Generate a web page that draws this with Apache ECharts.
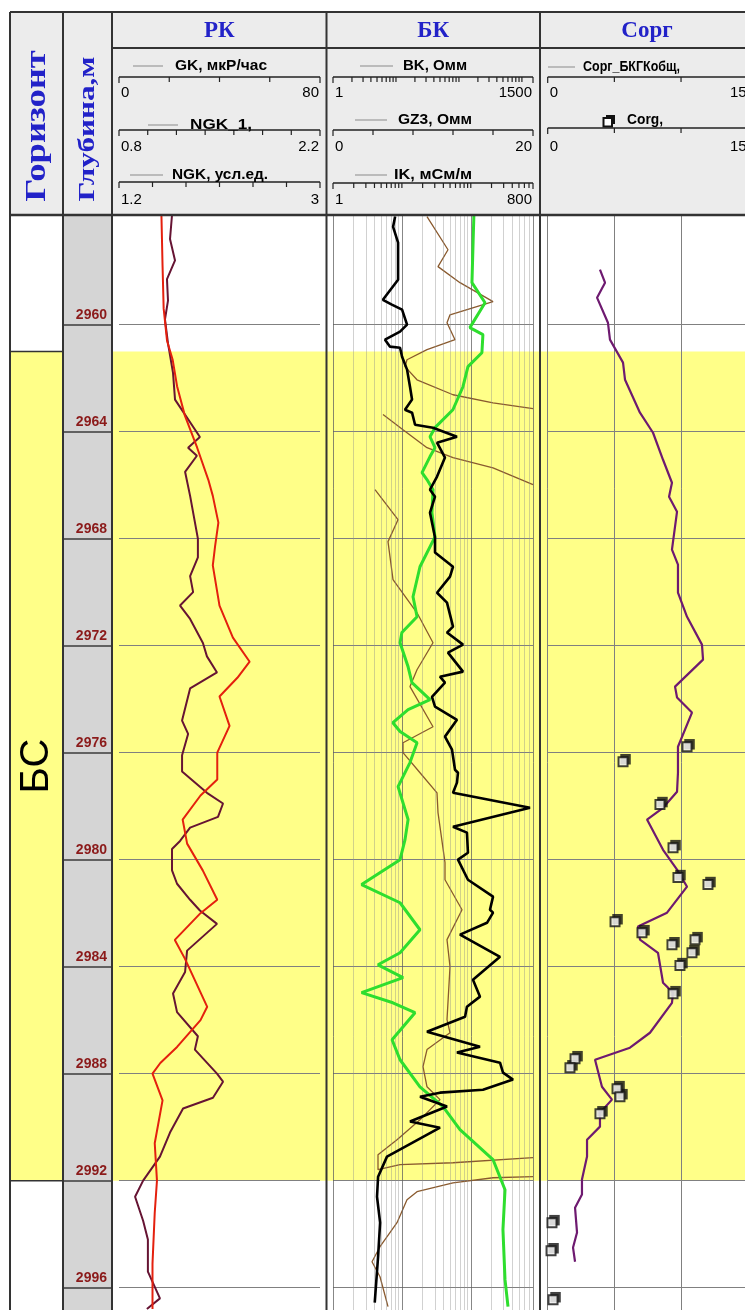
<!DOCTYPE html>
<html><head><meta charset="utf-8">
<script src="https://cdn.jsdelivr.net/npm/echarts/dist/echarts.min.js"></script>
<style>html,body{margin:0;padding:0;overflow:hidden;background:#fff}#c{width:745px;height:1310px}</style>
</head><body><div id="c"></div>
<script>
// ---------------- DATA ----------------
const depthTicks = [2960, 2964, 2968, 2972, 2976, 2980, 2984, 2988, 2992, 2996];
const depthTop = 2955.9, depthBottom = 2996.85;
const bandTop = 2961, bandBottom = 2992;
const horizonName = 'БС';

const colTitles = ['Горизонт', 'Глубина,м'];
const trackTitles = ['РК', 'БК', 'Сорг'];

const rkNames = ['GK, мкР/час', 'NGK_1,', 'NGK, усл.ед.'];
const rkMin = [0, 0.8, 1.2], rkMax = [80, 2.2, 3], rkStep = [20, 0.2, 0.3];
const rkMinLabel = ['0', '0.8', '1.2'], rkMaxLabel = ['80', '2.2', '3'];

const bkNames = ['BK, Омм', 'GZ3, Омм', 'IK, мСм/м'];
const bkMin = [1, 0, 1], bkMax = [1500, 20, 800], bkLog = [true, false, true], bkStep = [0, 4, 0];
const bkMinLabel = ['1', '0', '1'], bkMaxLabel = ['1500', '20', '800'];

const sorgNames = ['Сорг_БКГКобщ,', 'Corg,'];
const sorgMin = [0, 0], sorgMax = [15, 15], sorgStep = [5, 5];
const sorgMinLabel = ['0', '0'], sorgMaxLabel = ['15', '15'];

// GK (maroon)
const gkDepth = [2955.9, 2956.8, 2957.6, 2958.3, 2959.1, 2959.8, 2960.7, 2961.8, 2962.8, 2964.2, 2964.6, 2964.9, 2965.5, 2966.4, 2968.0, 2968.7, 2969.4, 2970.0, 2970.5, 2971.0, 2971.9, 2972.4, 2973.0, 2973.6, 2974.8, 2975.3, 2976.1, 2976.7, 2977.5, 2977.9, 2978.4, 2978.8, 2979.3, 2979.6, 2980.4, 2980.9, 2981.5, 2981.9, 2982.4, 2983.4, 2984.2, 2985.0, 2985.7, 2986.6, 2987.1, 2988.0, 2988.3, 2988.9, 2989.3, 2990.2, 2991.1, 2992.0, 2992.6, 2993.5, 2994.2, 2995.4, 2996.4, 2996.8];
const gkValue = [21.1, 20.3, 22.3, 19.1, 19.5, 18.3, 19.5, 21.5, 22.3, 32.2, 27.5, 31.0, 26.3, 28.3, 31.4, 31.4, 28.3, 29.5, 24.3, 28.3, 33.4, 35.0, 39.0, 28.3, 25.1, 27.5, 25.1, 25.1, 35.0, 41.4, 39.4, 28.3, 24.3, 21.1, 21.1, 23.1, 28.3, 32.2, 39.0, 27.1, 26.3, 21.5, 23.1, 31.4, 30.2, 39.0, 41.4, 37.4, 25.5, 20.3, 16.3, 9.6, 6.4, 9.6, 11.5, 11.5, 16.3, 11.1];

// NGK (red)
const ngkDepth = [2955.9, 2957.8, 2959.4, 2960.6, 2961.3, 2962.3, 2963.4, 2964.6, 2965.8, 2966.4, 2967.4, 2968.3, 2969.0, 2970.5, 2971.7, 2972.6, 2973.2, 2973.9, 2975.0, 2976.0, 2977.0, 2977.6, 2978.5, 2979.4, 2980.4, 2981.5, 2982.0, 2983.0, 2983.7, 2985.5, 2986.0, 2987.0, 2987.6, 2988.0, 2989.0, 2990.6, 2992.0, 2993.2, 2995.1, 2996.4, 2996.8];
const ngkValue = [1.58, 1.59, 1.60, 1.63, 1.68, 1.72, 1.79, 1.90, 2.00, 2.04, 2.09, 2.06, 2.04, 2.10, 2.22, 2.37, 2.26, 2.10, 2.19, 2.08, 2.08, 1.93, 1.77, 1.81, 1.95, 2.08, 1.93, 1.70, 1.79, 1.99, 1.93, 1.72, 1.57, 1.50, 1.59, 1.52, 1.54, 1.52, 1.50, 1.50, 1.50];

// BK (black, log)
const bkDepth = [2955.96, 2956.34, 2956.93, 2958.32, 2959.07, 2959.25, 2959.44, 2960.0, 2960.26, 2960.56, 2960.82, 2960.86, 2961.2, 2961.68, 2962.32, 2962.8, 2963.18, 2963.29, 2963.74, 2963.85, 2964.19, 2964.41, 2964.97, 2965.68, 2966.17, 2966.43, 2967.03, 2967.96, 2968.52, 2969.05, 2969.42, 2970.02, 2970.39, 2971.29, 2971.51, 2971.96, 2972.26, 2972.97, 2973.16, 2973.38, 2973.91, 2974.28, 2974.77, 2975.4, 2975.89, 2976.64, 2976.75, 2977.12, 2977.5, 2978.06, 2978.77, 2978.99, 2979.74, 2980.0, 2980.75, 2981.38, 2981.87, 2981.98, 2982.36, 2982.8, 2983.63, 2984.49, 2985.12, 2985.5, 2985.87, 2986.43, 2986.99, 2987.21, 2987.59, 2987.96, 2988.22, 2988.6, 2988.71, 2988.86, 2989.23, 2989.79, 2990.02, 2991.1, 2991.85, 2992.6, 2993.57, 2994.84, 2996.56];
const bkValue = [9.7, 9.0, 10.8, 10.8, 6.2, 8.6, 12.5, 15.0, 11.6, 6.7, 8.0, 11.6, 12.5, 15.0, 16.7, 18.0, 13.9, 18.0, 20.1, 38.7, 93, 44.9, 60, 44.9, 34.7, 41.7, 34.7, 41.7, 41.7, 80.5, 72.1, 44.9, 64.6, 80.5, 64.6, 116, 67, 116, 50, 60, 37.3, 41.7, 93, 60, 77.6, 86.6, 96.6, 93, 80.5, 1343, 80.5, 134, 139, 96.6, 139, 348, 311, 348, 279, 104, 449, 167, 216, 134, 125, 31.1, 216, 93, 449, 501, 722, 241, 50, 24.1, 64.6, 16.7, 50, 7.2, 5.2, 5.0, 5.6, 5.2, 4.6];

// IK (green, log)
const ikDepth = [2955.89, 2956.93, 2958.43, 2959.18, 2960.11, 2960.37, 2961.05, 2961.57, 2962.32, 2963.18, 2963.85, 2964.19, 2964.6, 2964.93, 2965.53, 2965.79, 2966.17, 2967.03, 2967.93, 2969.05, 2970.17, 2970.92, 2971.51, 2971.89, 2972.79, 2973.38, 2974.02, 2974.39, 2974.88, 2975.21, 2975.63, 2976.37, 2977.27, 2978.5, 2979.25, 2980.0, 2980.93, 2981.61, 2982.62, 2983.48, 2983.93, 2984.41, 2984.97, 2985.35, 2985.72, 2986.73, 2987.48, 2988.49, 2989.23, 2990.09, 2991.21, 2992.34, 2993.83, 2995.7, 2996.71];
const ikValue = [111, 108, 104, 161, 97, 150, 145, 91, 77, 55, 30.2, 25.6, 30.2, 25.6, 19.6, 23.1, 28.3, 27.3, 30.2, 18.3, 14.5, 16.6, 10.0, 9.4, 12.3, 14.0, 25.6, 12.3, 7.4, 9.4, 16.6, 13.1, 8.8, 12.3, 11.1, 9.4, 2.6, 9.4, 18.3, 9.4, 4.5, 10.4, 2.6, 7.4, 15.5, 7.2, 9.4, 18.3, 39.5, 69.7, 210, 314, 293, 314, 347];

// GZ3 (brown, wrapped segments separated by null)
const gz3Depth = [2955.96, 2957.2, 2957.83, 2958.43, 2959.14, 2959.63, 2959.93, 2960.56, 2960.93, 2961.31, 2961.57, 2962.06, 2962.62, 2962.92, 2963.14, null,
  2963.36, 2963.93, 2964.6, 2964.97, 2965.35, 2965.98, null,
  2966.17, 2967.29, 2968.11, 2969.53, 2970.77, 2971.89, 2972.9, 2973.53, 2975.03, 2975.63, 2976.0, 2976.75, 2977.5, 2978.24, 2980.11, 2980.75, 2981.87, 2982.99, 2984.0, 2985.98, 2986.47, 2987.1, 2987.74, 2988.49, 2988.97, 2989.72, 2990.47, 2991.03, 2991.59, 2991.4, 2991.33, 2991.14, null,
  2991.85, 2991.89, 2992.08, 2992.41, 2992.71, 2993.57, 2994.47, 2995.03, 2995.59, 2996.71];
const gz3Value = [9.4, 11.5, 10.5, 12.7, 16.0, 11.7, 11.4, 12.2, 9.4, 7.4, 7.2, 8.4, 12.0, 16.0, 20.0, null,
  5.0, 7.0, 9.4, 12.0, 16.0, 20.0, null,
  4.2, 6.5, 5.5, 6.0, 8.4, 10.0, 8.4, 7.7, 10.0, 7.0, 7.0, 8.7, 10.4, 10.5, 11.2, 11.2, 12.9, 11.4, 11.7, 11.4, 11.7, 9.4, 9.0, 9.4, 10.7, 8.7, 6.4, 4.5, 4.5, 6.7, 12.0, 20.0, null,
  20.0, 16.0, 12.0, 8.4, 7.4, 6.4, 4.7, 3.9, 4.7, 5.5];

// Сорг_БКГКобщ (purple)
const sorgDepth = [2957.94, 2958.43, 2958.99, 2959.93, 2960.56, 2961.42, 2962.06, 2963.29, 2964.04, 2965.05, 2965.91, 2966.43, 2966.99, 2968.41, 2968.97, 2970.02, 2970.92, 2971.96, 2972.52, 2973.53, 2973.94, 2974.5, 2975.78, 2976.75, 2977.46, 2978.06, 2978.5, 2979.63, 2980.37, 2981.01, 2981.98, 2982.5, 2982.99, 2983.48, 2984.6, 2984.97, 2985.35, 2986.47, 2987.03, 2987.48, 2988.49, 2988.97, 2989.46, 2989.98, 2990.47, 2991.1, 2991.96, 2992.52, 2993.01, 2993.94, 2994.5, 2995.03];
const sorgValue = [3.92, 4.30, 3.70, 4.52, 4.67, 5.65, 5.80, 6.92, 7.90, 8.65, 9.32, 9.10, 9.70, 9.32, 9.77, 9.77, 10.45, 11.57, 11.65, 9.55, 9.70, 10.82, 9.77, 9.77, 9.70, 8.65, 7.45, 8.65, 9.70, 10.45, 8.95, 6.77, 6.92, 8.27, 8.65, 9.40, 9.32, 7.67, 6.17, 3.55, 4.07, 4.82, 3.92, 3.92, 2.95, 2.95, 2.57, 2.57, 2.05, 2.20, 1.90, 2.05];

// Corg (core samples)
const corgDepth = [2975.78, 2976.34, 2977.94, 2979.55, 2980.67, 2980.93, 2982.32, 2982.73, 2983.18, 2982.99, 2983.48, 2983.96, 2985.01, 2987.44, 2987.78, 2988.56, 2988.86, 2989.5, 2993.57, 2994.62, 2996.45];
const corgValue = [10.45, 5.65, 8.42, 9.40, 9.77, 12.02, 5.05, 7.07, 9.32, 11.05, 10.82, 9.92, 9.40, 2.05, 1.67, 5.20, 5.42, 3.92, 0.32, 0.25, 0.40];

// ---------------- LAYOUT ----------------
const HEADER_TOP = 12, TITLE_BOTTOM = 48, HEADER_BOTTOM = 215;
const PX_PER_M = 26.75;
const GRID_TOP = HEADER_BOTTOM;
const GRID_H = (depthBottom - depthTop) * PX_PER_M;
const COL = {hor: [10, 63], depth: [63, 112], rk: [112, 326.5], bk: [326.5, 540], sorg: [540, 760]};
const TRK = {rk: {x: 119, w: 201}, bk: {x: 333, w: 200}, sorg: {x: 547.7, w: 200}};
const BLUE = '#2222c8', YELLOW = '#ffff88', BORDER = '#333333', GRIDC = '#808080';
const LABEL_FONT = 'bold 14px "Liberation Sans", Arial, sans-serif';
const NUM_FONT = '15px "Liberation Sans", Arial, sans-serif';

function zip(vals, depths) {
  return vals.map((v, i) => (v == null || depths[i] == null) ? ['-', '-'] : [v, depths[i]]);
}
function niceLogTicks(min, max) {
  const out = [];
  for (let e = 0; Math.pow(10, e) <= max; e++) {
    for (let m = 1; m <= 9; m++) {
      const v = m * Math.pow(10, e);
      if (v >= min - 1e-9 && v <= max + 1e-9) out.push(v);
    }
  }
  if (out[out.length - 1] !== max) out.push(max);
  return out;
}
function linTicks(min, max, step) {
  const n = Math.round((max - min) / step), out = [];
  for (let i = 0; i <= n; i++) out.push(min + i * step);
  return out;
}

// ---------------- GRAPHICS (header, borders) ----------------
const G = [];
const mctx = document.createElement('canvas').getContext('2d');
function rect(x, y, w, h, fill, z, stroke, lw) {
  G.push({type: 'rect', shape: {x, y, width: w, height: h}, style: {fill, stroke: stroke || null, lineWidth: lw || 0}, z: z || 100, silent: true});
}
function seg(x1, y1, x2, y2, stroke, lw, z) {
  G.push({type: 'line', shape: {x1, y1, x2, y2}, style: {stroke, lineWidth: lw}, z: z || 101, silent: true});
}
function txt(x, y, str, font, fill, align, valign, extra) {
  G.push(Object.assign({type: 'text', x, y, z: 102, silent: true,
    style: {text: str, font, fill, align, verticalAlign: valign, textAlign: align, textVerticalAlign: valign}}, extra || {}));
}
function fitTxt(x1, x2, y, str, font) {
  mctx.font = font;
  const w = mctx.measureText(str).width;
  txt(x1, y, str, font, '#000', 'left', 'middle', {scaleX: (x2 - x1) / w});
}
function scaleBar(trk, y, numY, min, max, log, step, minL, maxL) {
  const map = v => log ? trk.x + Math.log10(v / min) / Math.log10(max / min) * trk.w
                       : trk.x + (v - min) / (max - min) * trk.w;
  seg(trk.x, y, trk.x + trk.w, y, '#222', 1.5);
  const ticks = log ? niceLogTicks(min, max) : linTicks(min, max, step);
  ticks.forEach((v, i) => {
    const end = (i === 0 || i === ticks.length - 1);
    const px = map(v);
    seg(px, y, px, y + (end ? 6 : 5), '#222', 1.2);
  });
  txt(trk.x + 2, numY, minL, NUM_FONT, '#000', 'left', 'middle');
  txt(trk.x + trk.w - 1, numY, maxL, NUM_FONT, '#000', 'right', 'middle');
}

// header background
rect(COL.hor[0], HEADER_TOP, 760, HEADER_BOTTOM - HEADER_TOP, '#ececec', 100);
// column titles (rotated)
txt(37, 126, colTitles[0], 'bold 30px "Liberation Serif", serif', BLUE, 'center', 'middle', {rotation: Math.PI / 2, scaleX: 1.22});
txt(88, 129, colTitles[1], 'bold 24px "Liberation Serif", serif', BLUE, 'center', 'middle', {rotation: Math.PI / 2, scaleX: 1.3});
// track titles
const titleFont = 'bold 23px "Liberation Serif", serif';
txt((COL.rk[0] + COL.rk[1]) / 2, 31, trackTitles[0], titleFont, BLUE, 'center', 'middle');
txt((COL.bk[0] + COL.bk[1]) / 2, 31, trackTitles[1], titleFont, BLUE, 'center', 'middle');
txt(647, 31, trackTitles[2], titleFont, BLUE, 'center', 'middle');

// РК legends
const rkTextX = [[175, 267], [190, 252], [172, 268]], rkLineX = [[133, 163], [148, 178], [130, 163]];
const rkTextY = [66, 125, 175], rkScaleY = [77, 130, 182], rkNumY = [93, 147, 200];
rkNames.forEach((n, i) => {
  seg(rkLineX[i][0], rkTextY[i], rkLineX[i][1], rkTextY[i], '#8a8a8a', 1, 101);
  fitTxt(rkTextX[i][0], rkTextX[i][1], rkTextY[i], n, LABEL_FONT);
  scaleBar(TRK.rk, rkScaleY[i], rkNumY[i], rkMin[i], rkMax[i], false, rkStep[i], rkMinLabel[i], rkMaxLabel[i]);
});
// БК legends
const bkTextX = [[403, 467], [398, 472], [394, 472]], bkLineX = [[360, 393], [355, 387], [355, 387]];
const bkTextY = [66, 120, 175], bkScaleY = [77, 130, 183], bkNumY = [93, 147, 200];
bkNames.forEach((n, i) => {
  seg(bkLineX[i][0], bkTextY[i], bkLineX[i][1], bkTextY[i], '#8a8a8a', 1, 101);
  fitTxt(bkTextX[i][0], bkTextX[i][1], bkTextY[i], n, LABEL_FONT);
  scaleBar(TRK.bk, bkScaleY[i], bkNumY[i], bkMin[i], bkMax[i], bkLog[i], bkStep[i], bkMinLabel[i], bkMaxLabel[i]);
});
// Сорг legends
const sgTextX = [[583, 680], [627, 663]];
const sgTextY = [67, 120], sgScaleY = [77, 128], sgNumY = [93, 147];
seg(548, sgTextY[0], 575, sgTextY[0], '#8a8a8a', 1, 101);
rect(606, 115, 9, 9, '#111', 101);
rect(603.5, 118, 8.5, 8.5, '#fff', 102, '#111', 2);
sorgNames.forEach((n, i) => {
  fitTxt(sgTextX[i][0], sgTextX[i][1], sgTextY[i], n, LABEL_FONT);
  scaleBar(TRK.sorg, sgScaleY[i], sgNumY[i], sorgMin[i], sorgMax[i], false, sorgStep[i], sorgMinLabel[i], sorgMaxLabel[i]);
});

// borders
[COL.hor[0], COL.hor[1], COL.depth[1], COL.rk[1], COL.bk[1]].forEach(x => seg(x, HEADER_TOP, x, 1310, BORDER, 2, 110));
seg(COL.hor[0], HEADER_TOP, 760, HEADER_TOP, BORDER, 2, 110);
seg(COL.rk[0], TITLE_BOTTOM, 760, TITLE_BOTTOM, BORDER, 2, 110);
seg(COL.hor[0], HEADER_BOTTOM, 760, HEADER_BOTTOM, BORDER, 2.5, 110);

// ---------------- ECHARTS OPTION ----------------
function gridAt(left, width, extra) {
  return Object.assign({left, width, top: GRID_TOP, height: GRID_H, containLabel: false, outerBoundsMode: 'none', borderWidth: 0}, extra || {});
}
function depthAxis(gi, show, extra) {
  return Object.assign({
    gridIndex: gi, type: 'value', inverse: true, min: depthTop, max: depthBottom, z: 2,
    axisLine: {show: false},
    axisTick: {show: false, customValues: depthTicks},
    axisLabel: {show: false, customValues: depthTicks},
    splitLine: {show: show, lineStyle: {color: GRIDC, width: 1}}
  }, extra || {});
}
function hiddenX(gi, min, max, type) {
  return {gridIndex: gi, type: type || 'value', min, max, show: false};
}

const ikGrid = niceLogTicks(bkMin[2], bkMax[2]);
const ikGridLines = ikGrid.map(v => {
  const decade = Math.abs(Math.log10(v) - Math.round(Math.log10(v))) < 1e-9 || v === bkMax[2];
  return {xAxis: v, lineStyle: {color: decade ? 'rgba(95,95,95,0.75)' : 'rgba(140,140,140,0.4)', width: 1, type: 'solid'}};
});

const option = {
  animation: false,
  backgroundColor: '#ffffff',
  textStyle: {fontFamily: '"Liberation Sans", Arial, sans-serif'},
  graphic: {elements: G},
  grid: [
    gridAt(COL.hor[0], COL.hor[1] - COL.hor[0]),
    gridAt(COL.depth[0], COL.depth[1] - COL.depth[0], {show: true, backgroundColor: '#d5d5d5'}),
    gridAt(TRK.rk.x, TRK.rk.w),
    gridAt(TRK.bk.x, TRK.bk.w),
    gridAt(TRK.sorg.x, TRK.sorg.w),
    gridAt(COL.rk[0], 760 - COL.rk[0])
  ],
  xAxis: [
    hiddenX(0, 0, 1),
    hiddenX(1, 0, 1),
    hiddenX(2, rkMin[0], rkMax[0]),
    hiddenX(2, rkMin[2], rkMax[2]),
    hiddenX(3, bkMin[0], bkMax[0], 'log'),
    hiddenX(3, bkMin[2], bkMax[2], 'log'),
    hiddenX(3, bkMin[1], bkMax[1]),
    {gridIndex: 4, type: 'value', min: sorgMin[0], max: sorgMax[0], interval: sorgStep[0], z: 2,
      axisLine: {show: false}, axisTick: {show: false}, axisLabel: {show: false},
      splitLine: {show: true, lineStyle: {color: GRIDC, width: 1}}},
    hiddenX(5, 0, 1)
  ],
  yAxis: [
    depthAxis(0, false),
    depthAxis(1, true, {
      position: 'right',
      splitLine: {show: true, lineStyle: {color: '#3a3a3a', width: 1.5}},
      axisLabel: {show: true, inside: true, customValues: depthTicks, margin: 5, align: 'right', verticalAlign: 'bottom',
        padding: [0, 0, 3, 0], color: '#8b1a1a', fontWeight: 'bold', fontSize: 14,
        fontFamily: '"Liberation Sans", Arial, sans-serif', formatter: v => String(v)}
    }),
    depthAxis(2, true),
    depthAxis(3, true),
    depthAxis(4, true),
    depthAxis(5, false)
  ],
  series: [
    {
      type: 'line', xAxisIndex: 0, yAxisIndex: 0, data: [[0, depthTop]], showSymbol: false, silent: true, z: 1,
      lineStyle: {width: 0},
      markArea: {silent: true,
        itemStyle: {color: YELLOW, borderColor: BORDER, borderWidth: 1.5},
        label: {show: true, position: 'inside', rotate: 90, color: '#000', fontSize: 40,
          fontFamily: '"Liberation Sans", Arial, sans-serif', formatter: horizonName},
        data: [[{yAxis: bandTop}, {yAxis: bandBottom}]]}
    },
    {
      type: 'line', xAxisIndex: 8, yAxisIndex: 5, data: [[0, depthTop]], showSymbol: false, silent: true, z: 1,
      lineStyle: {width: 0},
      markArea: {silent: true, itemStyle: {color: YELLOW, borderWidth: 0}, label: {show: false},
        data: [[{yAxis: bandTop}, {yAxis: bandBottom}]]}
    },
    {
      type: 'line', xAxisIndex: 5, yAxisIndex: 3, data: [[1, depthTop]], showSymbol: false, silent: true, z: 3,
      lineStyle: {width: 0},
      markLine: {silent: true, symbol: ['none', 'none'], label: {show: false}, animation: false, data: ikGridLines}
    },
    {name: 'GK', type: 'line', xAxisIndex: 2, yAxisIndex: 2, data: zip(gkValue, gkDepth), showSymbol: false, z: 4,
      lineStyle: {color: '#661433', width: 2}},
    {name: 'NGK', type: 'line', xAxisIndex: 3, yAxisIndex: 2, data: zip(ngkValue, ngkDepth), showSymbol: false, z: 5,
      lineStyle: {color: '#e4200e', width: 2}},
    {name: 'GZ3', type: 'line', xAxisIndex: 6, yAxisIndex: 3, data: zip(gz3Value, gz3Depth), showSymbol: false, z: 4,
      connectNulls: false, lineStyle: {color: '#8a5a2e', width: 1.3}},
    {name: 'IK', type: 'line', xAxisIndex: 5, yAxisIndex: 3, data: zip(ikValue, ikDepth), showSymbol: false, z: 5,
      lineStyle: {color: '#2ede2e', width: 3}},
    {name: 'BK', type: 'line', xAxisIndex: 4, yAxisIndex: 3, data: zip(bkValue, bkDepth), showSymbol: false, z: 6,
      lineStyle: {color: '#000000', width: 2.6}},
    {name: 'Сорг_БКГКобщ', type: 'line', xAxisIndex: 7, yAxisIndex: 4, data: zip(sorgValue, sorgDepth), showSymbol: false, z: 5,
      lineStyle: {color: '#6e1a70', width: 2.2}},
    {name: 'Corg shadow', type: 'scatter', xAxisIndex: 7, yAxisIndex: 4, data: zip(corgValue, corgDepth), z: 7,
      symbol: 'rect', symbolSize: 10.5, symbolOffset: [2.5, -2.5], itemStyle: {color: '#111'}, silent: true},
    {name: 'Corg', type: 'scatter', xAxisIndex: 7, yAxisIndex: 4, data: zip(corgValue, corgDepth), z: 8,
      symbol: 'rect', symbolSize: 9, itemStyle: {color: '#ffffff', borderColor: '#111', borderWidth: 2}, silent: true}
  ]
};

const chart = echarts.init(document.getElementById('c'), null, {renderer: 'canvas'});
chart.setOption(option);
</script>
</body></html>
